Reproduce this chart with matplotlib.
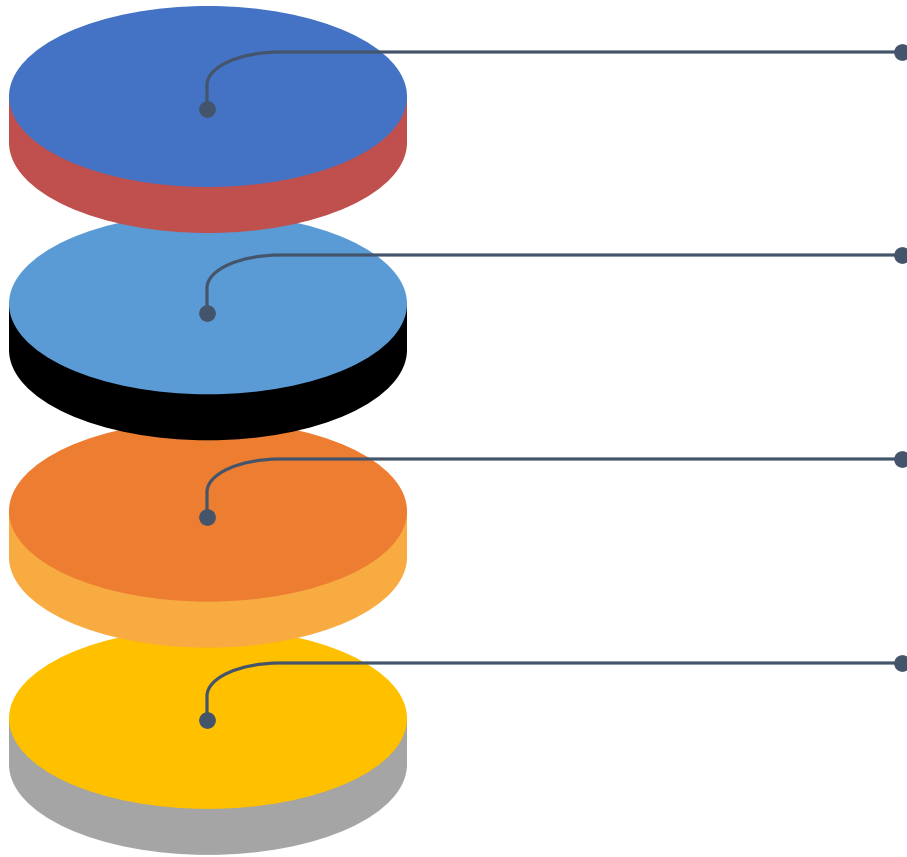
import numpy as np
import matplotlib.pyplot as plt
from matplotlib.patches import Ellipse, Rectangle
from matplotlib.path import Path
from matplotlib.patches import PathPatch

# stacked disc infographic, top to bottom
levels = ['Level 1', 'Level 2', 'Level 3', 'Level 4']
top_colors = ['#4472C4', '#5B9BD5', '#ED7D31', '#FFC000']
side_colors = ['#C0504D', '#000000', '#F7AB41', '#A5A5A5']
line_color = '#44546A'

W, H = 907, 857
fig = plt.figure(figsize=(W / 100, H / 100), dpi=100)
ax = fig.add_axes([0, 0, 1, 1])
ax.set_xlim(0, W)
ax.set_ylim(H, 0)
ax.axis('off')

cx = 208
rx, ry = 199, 90.5
depth = 46
first_cy = 96.5
step = 207.3

# draw bottom disc first so the upper discs sit in front
for i in reversed(range(len(levels))):
    cy = first_cy + i * step
    z = 10 + (len(levels) - i) * 3
    ax.add_patch(Ellipse((cx, cy + depth), 2 * rx, 2 * ry, color=side_colors[i], lw=0, zorder=z))
    ax.add_patch(Rectangle((cx - rx, cy), 2 * rx, depth, color=side_colors[i], lw=0, zorder=z))
    ax.add_patch(Ellipse((cx, cy), 2 * rx, 2 * ry, color=top_colors[i], lw=0, zorder=z + 1))

# connectors: dot on disc, up, round corner, right to the edge
dot_ys = [109, 313, 517, 720]
line_ys = [52, 255, 459, 663]
k = 0.5523
for dot_y, line_y in zip(dot_ys, line_ys):
    x0, x1 = 207, 280
    bend = 33
    verts = [(x0, dot_y), (x0, line_y + bend),
             (x0, line_y + bend * (1 - k)), (x1 - (x1 - x0) * k, line_y), (x1, line_y),
             (902, line_y)]
    codes = [Path.MOVETO, Path.LINETO, Path.CURVE4, Path.CURVE4, Path.CURVE4, Path.LINETO]
    ax.add_patch(PathPatch(Path(verts, codes), fill=False, edgecolor=line_color, lw=2.3, zorder=50))
    ax.plot([x0], [dot_y], 'o', color=line_color, ms=11, zorder=51)
    ax.plot([902], [line_y], 'o', color=line_color, ms=11, zorder=51, clip_on=False)

fig.savefig('out.png', dpi=100, facecolor='white')
